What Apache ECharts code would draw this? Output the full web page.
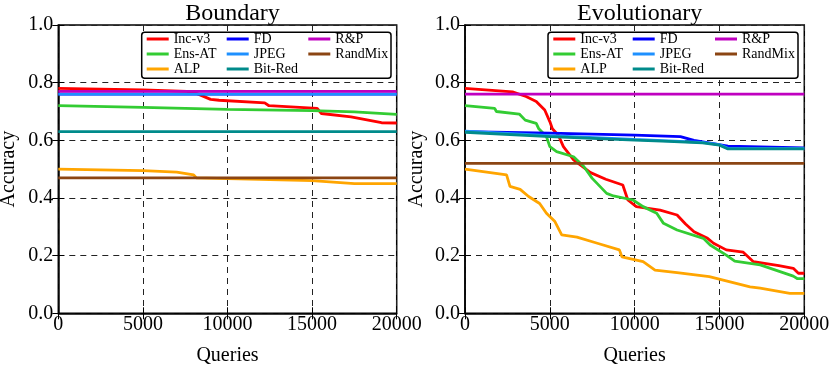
<!DOCTYPE html>
<html>
<head>
<meta charset="utf-8">
<script src="https://cdn.jsdelivr.net/npm/echarts@6/dist/echarts.min.js"></script>
<style>html,body{margin:0;padding:0;background:#fff;}#c{width:830px;height:367px;}</style>
</head>
<body>
<div id="c"></div>
<script>
// ---------- data ----------
var seriesNames = ['Inc-v3','Ens-AT','ALP','FD','JPEG','Bit-Red','R&P','RandMix'];
var seriesColors = ['#ff0000','#33cc33','#ffa500','#0000ff','#1e90ff','#008b8b','#c000c0','#8b4513'];
var xTicks = [0,5000,10000,15000,20000];
var yTicks = [0.0,0.2,0.4,0.6,0.8,1.0];

// Boundary (left panel), [queries, accuracy]
var bInc = [[0,0.78],[5000,0.775],[7600,0.77],[8200,0.762],[9000,0.742],[9500,0.739],[12200,0.73],[12450,0.72],[15300,0.711],[15550,0.693],[17300,0.681],[19100,0.661],[20000,0.66]];
var bEns = [[0,0.72],[5000,0.714],[10000,0.707],[15000,0.703],[17500,0.699],[20000,0.69]];
var bAlp = [[0,0.50],[5000,0.495],[7000,0.49],[8000,0.48],[8150,0.47],[10000,0.467],[15000,0.46],[17500,0.45],[20000,0.45]];
var bFd = [[0,0.76],[20000,0.76]];
var bJpeg = [[0,0.76],[20000,0.76]];
var bBit = [[0,0.63],[20000,0.63]];
var bRp = [[0,0.77],[20000,0.77]];
var bRand = [[0,0.47],[20000,0.47]];

// Evolutionary (right panel)
var eInc = [[0,0.78],[2800,0.768],[3600,0.752],[4200,0.735],[4700,0.705],[5000,0.665],[5150,0.64],[5500,0.618],[5800,0.578],[6400,0.532],[7400,0.488],[8300,0.465],[9300,0.445],[9600,0.393],[10100,0.37],[11500,0.358],[12500,0.341],[13000,0.31],[13500,0.283],[14300,0.26],[14650,0.243],[15400,0.22],[16400,0.212],[17000,0.179],[18500,0.165],[19350,0.156],[19650,0.139],[20000,0.139]];
var eEns = [[0,0.72],[1750,0.711],[1850,0.70],[3200,0.691],[3550,0.67],[4200,0.659],[4350,0.64],[4800,0.613],[5000,0.578],[5400,0.561],[6400,0.543],[7000,0.509],[7500,0.468],[8350,0.416],[8750,0.407],[9900,0.393],[10500,0.37],[11300,0.347],[11700,0.312],[12500,0.289],[14050,0.26],[14450,0.237],[15400,0.202],[15900,0.181],[17400,0.168],[19350,0.129],[19600,0.12],[20000,0.12]];
var eAlp = [[0,0.50],[2450,0.48],[2650,0.44],[3250,0.43],[3750,0.405],[4400,0.381],[4800,0.347],[5300,0.318],[5700,0.272],[6600,0.264],[7800,0.243],[9100,0.22],[9250,0.196],[10500,0.179],[11200,0.15],[12500,0.141],[14400,0.127],[16800,0.092],[17400,0.087],[19150,0.069],[20000,0.069]];
var eFd = [[0,0.63],[5000,0.625],[10000,0.618],[12700,0.613],[13500,0.600],[15500,0.58],[20000,0.574]];
var eJpeg = [[0,0.632],[5000,0.616],[10000,0.603],[14000,0.593],[15000,0.585],[15500,0.572],[20000,0.572]];
var eBit = [[0,0.628],[5000,0.613],[10000,0.601],[12000,0.596],[14000,0.591],[15000,0.583],[15500,0.57],[20000,0.57]];
var eRp = [[0,0.76],[20000,0.76]];
var eRand = [[0,0.52],[20000,0.52]];

var panelData = [
  [bInc,bEns,bAlp,bFd,bJpeg,bBit,bRp,bRand],
  [eInc,eEns,eAlp,eFd,eJpeg,eBit,eRp,eRand]
];
var panelTitles = ['Boundary','Evolutionary'];

// ---------- layout ----------
var FONT = '"Liberation Serif","DejaVu Serif",serif';
var grids = [
  {left:58.3, top:25, width:338.4, height:288.3},
  {left:465, top:25, width:339.3, height:288.3}
];
var yNameGap = [40, 38.5];
var legendCols = [[146.7,226.7,308.3],[553.3,632.7,715]];
var legendBoxes = [[141.7,32.3,249.3,46],[548,32.3,250,46]];
var legendGroups = [['Inc-v3','Ens-AT','ALP'],['FD','JPEG','Bit-Red'],['R&P','RandMix']];

var option = {
  animation:false,
  backgroundColor:'#fff',
  textStyle:{fontFamily:FONT},
  title:[], grid:[], xAxis:[], yAxis:[], series:[], legend:[], graphic:[]
};

for (var p=0;p<2;p++){
  var g = grids[p];
  option.grid.push({left:g.left, top:g.top, width:g.width, height:g.height, show:true, borderColor:'#000', borderWidth:1.5,
    containLabel:false, outerBoundsMode:'none'});
  option.title.push({text:panelTitles[p], left:g.left+g.width/2, textAlign:'center', top:-3,
    textStyle:{fontFamily:FONT, fontSize:24, fontWeight:'normal', color:'#000'}});
  option.xAxis.push({type:'value', gridIndex:p, min:xTicks[0], max:xTicks[xTicks.length-1], interval:5000,
    name:'Queries', nameLocation:'middle', nameGap:32,
    nameTextStyle:{fontFamily:FONT, fontSize:20, color:'#000'},
    axisLine:{show:true, lineStyle:{color:'#000', width:1.5}},
    axisTick:{show:true, inside:true, length:6, lineStyle:{color:'#000', width:1}},
    axisLabel:{fontFamily:FONT, fontSize:20, color:'#000', margin:1, formatter:function(v){return String(Math.round(v));}},
    splitLine:{show:true, lineStyle:{color:'#222', width:1, type:[6,5]}}
  });
  option.yAxis.push({type:'value', gridIndex:p, min:yTicks[0], max:yTicks[yTicks.length-1], interval:0.2,
    name:'Accuracy', nameLocation:'middle', nameGap:yNameGap[p], nameRotate:90,
    nameTextStyle:{fontFamily:FONT, fontSize:20, color:'#000'},
    axisLine:{show:true, lineStyle:{color:'#000', width:1.5}},
    axisTick:{show:true, inside:true, length:6, lineStyle:{color:'#000', width:1}},
    axisLabel:{fontFamily:FONT, fontSize:20, color:'#000', margin:5, formatter:function(v){return v.toFixed(1);}},
    splitLine:{show:true, lineStyle:{color:'#222', width:1, type:[6,5]}}
  });
  for (var s=0;s<seriesNames.length;s++){
    option.series.push({type:'line', name:seriesNames[s], xAxisIndex:p, yAxisIndex:p,
      data:panelData[p][s], showSymbol:false, symbol:'none', smooth:false, z:2+s*0.01,
      lineStyle:{color:seriesColors[s], width:2.8}, itemStyle:{color:seriesColors[s]}});
  }
  var bx = legendBoxes[p];
  option.graphic.push({type:'rect', z:3, shape:{x:bx[0], y:bx[1], width:bx[2], height:bx[3], r:3},
    style:{fill:'#fff', stroke:'#000', lineWidth:1.5}});
  for (var c=0;c<3;c++){
    option.legend.push({orient:'vertical', left:legendCols[p][c], top:31.5, padding:0, itemGap:0,
      icon:'rect', itemWidth:22, itemHeight:3, z:5, selectedMode:false,
      data:legendGroups[c],
      textStyle:{fontFamily:FONT, fontSize:14, color:'#000', lineHeight:15, padding:[0,0,0,0]}});
  }
}
// mirrored tick marks on top and right edges (matplotlib-style frame)
for (var q=0;q<2;q++){
  option.xAxis.push({type:'value', gridIndex:q, position:'top', min:xTicks[0], max:xTicks[xTicks.length-1], interval:5000,
    axisLine:{show:false}, axisLabel:{show:false}, splitLine:{show:false},
    axisTick:{show:true, inside:true, length:6, lineStyle:{color:'#000', width:1}}});
  option.yAxis.push({type:'value', gridIndex:q, position:'right', min:yTicks[0], max:yTicks[yTicks.length-1], interval:0.2,
    axisLine:{show:false}, axisLabel:{show:false}, splitLine:{show:false},
    axisTick:{show:true, inside:true, length:6, lineStyle:{color:'#000', width:1}}});
}

var chart = echarts.init(document.getElementById('c'), null, {renderer:'canvas'});
chart.setOption(option);
</script>
</body>
</html>
